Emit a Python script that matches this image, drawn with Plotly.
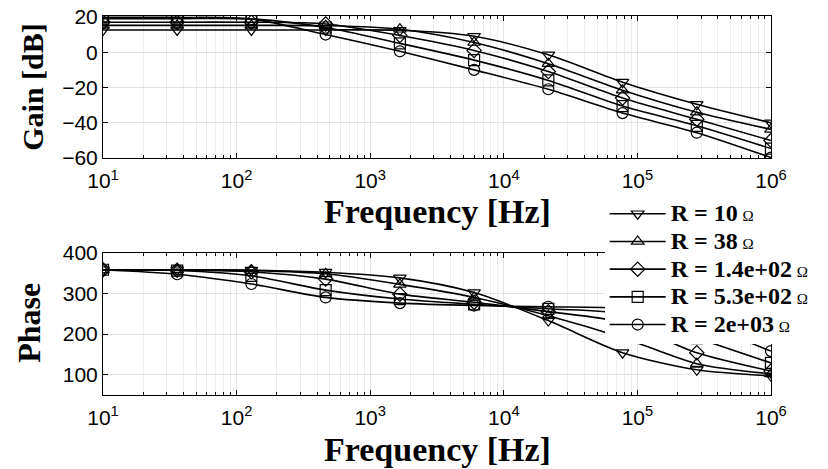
import plotly.graph_objects as go

freqs = [10, 35.9, 129, 464, 1668, 5995, 21544, 77426, 278256, 1000000]

labels = ["10", "38", "1.4e+02", "5.3e+02", "2e+03"]
symbols = ["triangle-down-open", "triangle-up-open", "diamond-open", "square-open", "circle-open"]

gain = [
    [12.6, 12.6, 12.6, 12.6, 12.4, 9.0, -1.5, -17.0, -29.5, -40.0],
    [15.2, 15.2, 15.2, 15.0, 13.0, 5.5, -6.5, -21.5, -34.0, -43.7],
    [17.0, 17.0, 17.0, 16.0, 9.5, 1.0, -11.0, -26.0, -38.0, -50.0],
    [19.0, 19.0, 18.8, 14.0, 5.0, -4.5, -16.0, -30.5, -41.7, -54.6],
    [19.7, 19.7, 18.8, 10.0, 0.5, -10.0, -21.0, -34.5, -45.6, -59.7],
]

phase = [
    [358, 358, 357, 352, 338, 302, 233, 154, 112, 97],
    [358, 358, 356, 348, 322, 290, 245, 191, 127, 102],
    [358, 357, 353, 335, 298, 278, 255, 228, 154, 109],
    [358, 356, 343, 308, 286, 273, 262, 250, 190, 129],
    [358, 347, 323, 290, 276, 270, 267, 262, 225, 158],
]

xtickvals = [10, 100, 1000, 10000, 100000, 1000000]
xticktext = ["10<sup>1</sup>", "10<sup>2</sup>", "10<sup>3</sup>", "10<sup>4</sup>", "10<sup>5</sup>", "10<sup>6</sup>"]

fig = go.Figure()
for i in range(5):
    name = ("<span style='font-size:24px'><b>R = " + labels[i] + "</b></span>"
            " <span style='font-size:15px'>Ω</span>")
    fig.add_trace(go.Scatter(
        x=freqs, y=gain[i], mode="lines+markers", name=name,
        line=dict(color="black", width=1.6, shape="spline", smoothing=0.8),
        marker=dict(symbol=symbols[i], size=11, color="black", line=dict(width=1.2, color="black")),
        xaxis="x", yaxis="y", legendgroup=str(i)))
for i in range(5):
    fig.add_trace(go.Scatter(
        x=freqs, y=phase[i], mode="lines+markers", showlegend=False,
        line=dict(color="black", width=1.6, shape="spline", smoothing=0.8),
        marker=dict(symbol=symbols[i], size=11, color="black", line=dict(width=1.2, color="black")),
        xaxis="x2", yaxis="y2", legendgroup=str(i)))

tickfont = dict(family="Liberation Sans, Arial", size=21, color="black")
common_x = dict(
    type="log", range=[1, 6], tickvals=xtickvals, ticktext=xticktext,
    ticks="inside", ticklen=5, tickcolor="black", showline=True, linecolor="black",
    linewidth=1, mirror="ticks", showgrid=True, gridcolor="#e3e3e3", gridwidth=1,
    tickfont=tickfont, zeroline=False, ticklabelstandoff=4, automargin=False,
    ticklabeloverflow="allow",
    minor=dict(dtick="D1", ticks="inside", ticklen=3, tickcolor="black",
               showgrid=True, gridcolor="#ececec", gridwidth=1),
)
common_y = dict(
    ticks="inside", ticklen=5, tickcolor="black", showline=True, linecolor="black",
    linewidth=1, mirror="ticks", showgrid=True, gridcolor="#e3e3e3", gridwidth=1,
    tickfont=tickfont, zeroline=False, automargin=False, ticklabeloverflow="allow",
)

# page body has an 8px margin, so the figure is drawn 8px in from the window edges
fig.update_layout(
    width=820, height=461,
    margin=dict(l=95, r=57, t=8, b=74),
    paper_bgcolor="white", plot_bgcolor="white",
    xaxis=dict(domain=[0, 1], anchor="y", **common_x),
    yaxis=dict(domain=[0.625, 1.0], anchor="x", range=[-60, 20.5],
               tickvals=[-60, -40, -20, 0, 20], **common_y),
    xaxis2=dict(domain=[0, 1], anchor="y2", **common_x),
    yaxis2=dict(domain=[0, 0.3755], anchor="x2", range=[50, 400],
                tickvals=[100, 200, 300, 400], **common_y),
    showlegend=True,
    legend=dict(x=0.751, y=0.528, xanchor="left", yanchor="top",
                bgcolor="white", borderwidth=0,
                font=dict(family="Liberation Serif", size=19, color="black"),
                tracegroupgap=0, itemwidth=56),
)

fig.add_annotation(text="<b>Frequency [Hz]</b>", xref="paper", yref="paper",
                   x=0.5, y=0.485, showarrow=False,
                   font=dict(family="Liberation Serif", size=34, color="black"),
                   xanchor="center", yanchor="middle")
fig.add_annotation(text="<b>Frequency [Hz]</b>", xref="paper", yref="paper",
                   x=0.5, y=-0.145, showarrow=False,
                   font=dict(family="Liberation Serif", size=34, color="black"),
                   xanchor="center", yanchor="middle")
fig.add_annotation(text="<b>Gain [dB]</b>", xref="paper", yref="paper",
                   x=-0.105, y=0.813, showarrow=False,
                   font=dict(family="Liberation Serif", size=30, color="black"),
                   textangle=-90, xanchor="center", yanchor="middle")
fig.add_annotation(text="<b>Phase</b>", xref="paper", yref="paper",
                   x=-0.111, y=0.19, showarrow=False,
                   font=dict(family="Liberation Serif", size=32, color="black"),
                   textangle=-90, xanchor="center", yanchor="middle")

fig.write_html("out.html")
